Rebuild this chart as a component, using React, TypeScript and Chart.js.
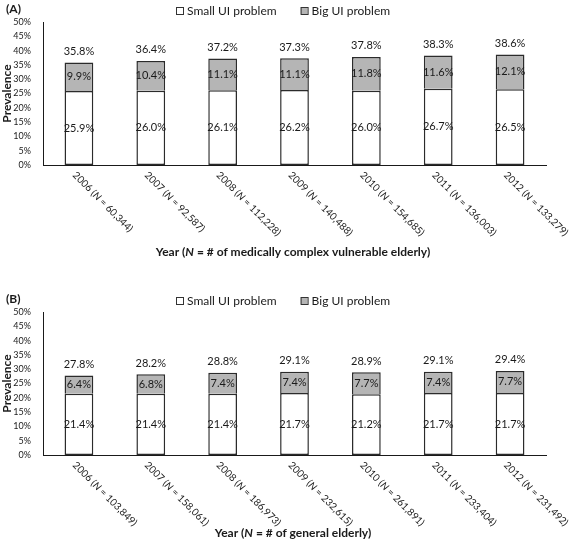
import React, { useEffect, useRef } from "react";
import { Chart, registerables } from "chart.js";

Chart.register(...registerables);

const years = ["2006", "2007", "2008", "2009", "2010", "2011", "2012"];
const nA = ["60,344", "92,587", "112,228", "140,488", "154,685", "136,003", "133,279"];
const nB = ["103,849", "158,061", "186,973", "232,615", "261,891", "233,404", "231,492"];
const smallA = [25.9, 26.0, 26.1, 26.2, 26.0, 26.7, 26.5];
const bigA = [9.9, 10.4, 11.1, 11.1, 11.8, 11.6, 12.1];
const totalA = [35.8, 36.4, 37.2, 37.3, 37.8, 38.3, 38.6];
const smallB = [21.4, 21.4, 21.4, 21.7, 21.2, 21.7, 21.7];
const bigB = [6.4, 6.8, 7.4, 7.4, 7.7, 7.4, 7.7];
const totalB = [27.8, 28.2, 28.8, 29.1, 28.9, 29.1, 29.4];
const seriesNames = ["Small UI problem", "Big UI problem"];
const yMin = 0;
const yMax = 50;
const yStep = 5;

const FONT = "Lato, 'Open Sans', sans-serif";

type Run = { t: string; italic?: boolean };

function runsWidth(ctx: CanvasRenderingContext2D, runs: Run[], size: number, bold: boolean) {
  let w = 0;
  for (const r of runs) {
    ctx.font = `${r.italic ? "italic " : ""}${bold ? "bold " : ""}${size}px ${FONT}`;
    w += ctx.measureText(r.t).width;
  }
  return w;
}

function drawRuns(ctx: CanvasRenderingContext2D, runs: Run[], x: number, y: number, size: number, bold: boolean) {
  let cx = x;
  for (const r of runs) {
    ctx.font = `${r.italic ? "italic " : ""}${bold ? "bold " : ""}${size}px ${FONT}`;
    ctx.fillText(r.t, cx, y);
    cx += ctx.measureText(r.t).width;
  }
}

function makePlugin(panel: string, nLabels: string[], totals: number[], xTitle: Run[], titleOffset: number) {
  return {
    id: "decor" + panel,
    afterDraw(chart: any) {
      const ctx: CanvasRenderingContext2D = chart.ctx;
      const xs = chart.scales.x;
      const ys = chart.scales.y;
      const area = chart.chartArea;
      ctx.save();
      ctx.fillStyle = "#1a1a1a";

      // panel tag
      ctx.font = `bold 12px ${FONT}`;
      ctx.textAlign = "left";
      ctx.textBaseline = "middle";
      ctx.fillText(`(${panel})`, 6, 9);

      // legend
      let lx = 176;
      const ly = 11;
      chart.data.datasets.forEach((ds: any) => {
        ctx.fillStyle = ds.backgroundColor;
        ctx.fillRect(lx, ly - 4, 7, 7);
        ctx.strokeStyle = "#333";
        ctx.lineWidth = 1;
        ctx.strokeRect(lx + 0.5, ly - 3.5, 7, 7);
        ctx.fillStyle = "#1a1a1a";
        ctx.font = `12px ${FONT}`;
        ctx.textAlign = "left";
        ctx.textBaseline = "middle";
        ctx.fillText(ds.label, lx + 11, ly);
        lx += 11 + ctx.measureText(ds.label).width + 24;
      });

      // y title
      ctx.save();
      ctx.translate(7, (area.top + area.bottom) / 2);
      ctx.rotate(-Math.PI / 2);
      ctx.font = `bold 12px ${FONT}`;
      ctx.textAlign = "center";
      ctx.textBaseline = "middle";
      ctx.fillText("Prevalence", 0, 0);
      ctx.restore();

      // value labels in segments
      ctx.font = `11px ${FONT}`;
      ctx.textAlign = "center";
      ctx.textBaseline = "middle";
      chart.data.datasets.forEach((ds: any, di: number) => {
        const meta = chart.getDatasetMeta(di);
        meta.data.forEach((el: any, i: number) => {
          const v = ds.data[i];
          ctx.fillText(v.toFixed(1) + "%", el.x, (el.y + el.base) / 2);
        });
      });
      // totals
      totals.forEach((t, i) => {
        const x = xs.getPixelForValue(i);
        const y = ys.getPixelForValue(t);
        ctx.fillText(t.toFixed(1) + "%", x, y - 11);
      });

      // rotated x tick labels
      const lsize = 10;
      xs.ticks.forEach((_: any, i: number) => {
        const x = xs.getPixelForValue(i);
        const runs: Run[] = [
          { t: `${years[i]} (` },
          { t: "N", italic: true },
          { t: ` = ${nLabels[i]})` },
        ];
        ctx.save();
        ctx.translate(x - 1, area.bottom + 5);
        ctx.rotate(Math.PI / 4);
        ctx.textAlign = "left";
        ctx.textBaseline = "top";
        drawRuns(ctx, runs, 0, 0, lsize, false);
        ctx.restore();
      });

      // x title
      ctx.textAlign = "left";
      ctx.textBaseline = "middle";
      const tw = runsWidth(ctx, xTitle, 12, true);
      drawRuns(ctx, xTitle, 293 - tw / 2, area.bottom + titleOffset, 12, true);
      ctx.restore();
    },
  };
}

function Panel(props: {
  panel: string;
  small: number[];
  big: number[];
  totals: number[];
  nLabels: string[];
  xTitle: Run[];
  height: number;
  titleOffset: number;
}) {
  const ref = useRef<HTMLCanvasElement>(null);
  useEffect(() => {
    if (!ref.current) return;
    const chart = new Chart(ref.current, {
      type: "bar",
      data: {
        labels: years,
        datasets: [
          {
            label: seriesNames[0],
            data: props.small,
            backgroundColor: "#ffffff",
            borderColor: "#2b2b2b",
            borderWidth: 1.5,
            borderSkipped: false,
          },
          {
            label: seriesNames[1],
            data: props.big,
            backgroundColor: "#b5b5b5",
            borderColor: "#2b2b2b",
            borderWidth: 1.5,
            borderSkipped: "bottom",
          },
        ],
      },
      options: {
        responsive: false,
        animation: false,
        layout: { padding: { top: 22, right: 29, bottom: props.height - 165, left: 0 } },
        plugins: { legend: { display: false }, tooltip: { enabled: false } },
        datasets: { bar: { barPercentage: 0.4, categoryPercentage: 1 } },
        scales: {
          x: {
            stacked: true,
            grid: { display: false },
            border: { display: true, color: "#1a1a1a", width: 1 },
            ticks: { display: false },
            afterFit: (s: any) => {
              s.height = 0;
            },
          },
          y: {
            stacked: true,
            min: yMin,
            max: yMax,
            grid: { display: false },
            border: { display: true, color: "#1a1a1a", width: 1 },
            ticks: {
              stepSize: yStep,
              autoSkip: false,
              padding: 4,
              color: "#1a1a1a",
              font: { family: FONT, size: 9 },
              callback: (v: any) => `${v}%`,
            },
            afterFit: (s: any) => {
              s.width = 43;
            },
          },
        },
      } as any,
      plugins: [makePlugin(props.panel, props.nLabels, props.totals, props.xTitle, props.titleOffset)],
    });
    return () => chart.destroy();
  }, []);
  return <canvas ref={ref} width={575} height={props.height} style={{ display: "block" }} />;
}

export default function App() {
  return (
    <div style={{ position: "absolute", left: 0, top: 0, width: 575, height: 549, background: "#fff" }}>
      <Panel
        panel="A"
        small={smallA}
        big={bigA}
        totals={totalA}
        nLabels={nA}
        height={290}
        titleOffset={87}
        xTitle={[
          { t: "Year (" },
          { t: "N", italic: true },
          { t: " = # of medically complex vulnerable elderly)" },
        ]}
      />
      <Panel
        panel="B"
        small={smallB}
        big={bigB}
        totals={totalB}
        nLabels={nB}
        height={259}
        titleOffset={78}
        xTitle={[{ t: "Year (" }, { t: "N", italic: true }, { t: " = # of general elderly)" }]}
      />
    </div>
  );
}
